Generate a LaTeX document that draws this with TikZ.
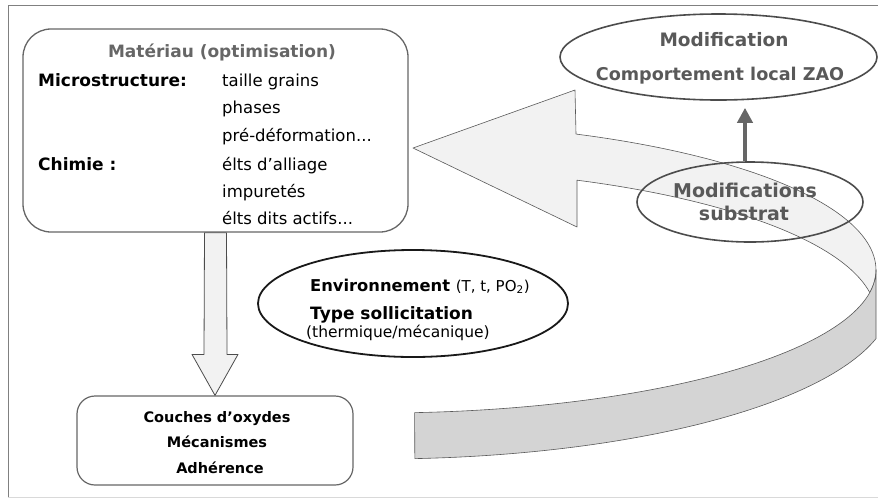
\documentclass[tikz,border=0pt]{standalone}
\usepackage{fontspec}
\setmainfont{DejaVu Sans}
\usetikzlibrary{shapes.geometric,calc,arrows.meta}
\begin{document}
\begin{tikzpicture}[x=1pt,y=-1pt,
  rib/.style={draw=black!65, line width=0.6pt, line join=round},
  lightfill/.style={fill=black!5},
  grayfill/.style={fill=black!17},
  boxa/.style={draw=black!60, line width=1.3pt, rectangle, inner sep=0pt},
  ell/.style={ellipse, draw=black!70, line width=1.6pt, inner sep=0pt},
  lbl/.style={inner sep=0pt, anchor=base west, font=\fontsize{16.5}{19}\selectfont},
  lblb/.style={inner sep=0pt, anchor=base west, font=\fontsize{17}{20}\selectfont\bfseries},
  ctr/.style={inner sep=0pt, anchor=base, font=\fontsize{14.5}{17}\selectfont\bfseries},
  grt/.style={inner sep=0pt, anchor=base, text=black!65, font=\fontsize{18.5}{21}\selectfont\bfseries},
  uparrow/.style={draw=black!60, line width=4pt, -{Triangle[width=15pt,length=15pt]}}
]
\useasboundingbox (0,0) rectangle (878,499);
% frame
\draw[black!50, line width=0.8pt] (878,5) -- (8,5) -- (8,497);
\draw[black!15, line width=0.8pt] (8,497) -- (878,497);

% ribbon: light upper part with arrowhead
\path[rib, lightfill] (413,148) -- (575,90) -- (576,134)
  -- plot[domain=66.6:0, samples=50] ({380+496*cos(\x)},{270-148*sin(\x)})
  -- plot[domain=0:8.9, samples=10] ({380+496*cos(\x)},{270+143*sin(\x)})
  -- plot[domain=8.9:66.6, samples=50] ({380+496*cos(\x)},{316-148*sin(\x)})
  -- (577,227) -- cycle;
% ribbon: gray side band
\path[rib, grayfill]
  plot[domain=86:0, samples=60] ({380+496*cos(\x)},{270+143*sin(\x)})
  -- (876,338.7)
  -- plot[domain=14.36:86.1, samples=60] ({380+512*cos(\x)},{299+160*sin(\x)})
  -- cycle;

% boxes
\node[boxa, rounded corners=28pt, minimum width=385pt, minimum height=203pt] (mat) at (215.5,130.5) {};
\node[boxa, rounded corners=18pt, minimum width=276pt, minimum height=89pt, line width=1.2pt] (res) at (215,440.5) {};

% hollow down arrow
\coordinate (dtip) at (res.north);
\path[rib, lightfill, draw=black!70, line width=0.8pt]
  ($(mat.south)+(-11,0)$) -- ($(mat.south)+(11,0)$) -- ($(res.north)+(12,-41)$)
  -- ($(res.north)+(23,-41)$) -- (dtip) -- ($(res.north)+(-23,-41)$)
  -- ($(res.north)+(-11,-41)$) -- cycle;

% ellipses
\node[ell, minimum width=317pt, minimum height=86pt] (zao) at (718.5,57) {};
\node[ell, minimum width=226pt, minimum height=80pt] (sub) at (750,202) {};
\node[ell, draw=black!90, line width=1.8pt, fill=white, minimum width=310pt, minimum height=107pt] (env) at (413,303.5) {};

% up arrow
\coordinate (upbase) at ($(sub.north)+(-5,0)$);
\draw[uparrow, shorten >=7pt] (upbase) -- (upbase |- zao.south);

% texts material box
\node[inner sep=0pt, anchor=base, text=black!60, font=\fontsize{17}{20}\selectfont\bfseries] (t0) at (222,57) {Matériau (optimisation)};
\node[lblb] (t1) at (38,86) {Microstructure:};
\node[lbl] (t2) at (222,86) {taille grains};
\node[lbl] (t3) at (222,113) {phases};
\node[lbl] (t4) at (222,141) {pré-déformation...};
\node[lblb] (t5) at (38,170) {Chimie :};
\node[lbl] (t6) at (222,170) {élts d'alliage};
\node[lbl] (t7) at (222,197) {impuretés};
\node[lbl] (t8) at (222,224) {élts dits actifs...};

% texts bottom box
\node[ctr] (b1) at (217,422) {Couches d'oxydes};
\node[ctr] (b2) at (217,447) {Mécanismes};
\node[ctr] (b3) at (220,473) {Adhérence};

% environment texts
\node[inner sep=0pt, anchor=base west] (e1) at (310,291) {\fontsize{16.3}{19}\selectfont\bfseries Environnement\ \fontsize{15}{17}\selectfont\mdseries(T, t, PO\textsubscript{2})};
\node[lblb] (e2) at (310,319) {Type sollicitation};
\node[inner sep=0pt, anchor=base west, font=\fontsize{15.5}{18}\selectfont] (e3) at (306,337) {(thermique/mécanique)};

% top ellipse texts
\node[grt] (z1) at (724,46) {Modification};
\node[grt, font=\fontsize{17.6}{21}\selectfont\bfseries] (z2) at (720,80) {Comportement local ZAO};

% substrate texts
\node[grt, font=\fontsize{19}{22}\selectfont\bfseries] (s1) at (745,197) {Modifications};
\node[grt, font=\fontsize{19}{22}\selectfont\bfseries] (s2) at (744,220) {substrat};
\end{tikzpicture}
\end{document}
